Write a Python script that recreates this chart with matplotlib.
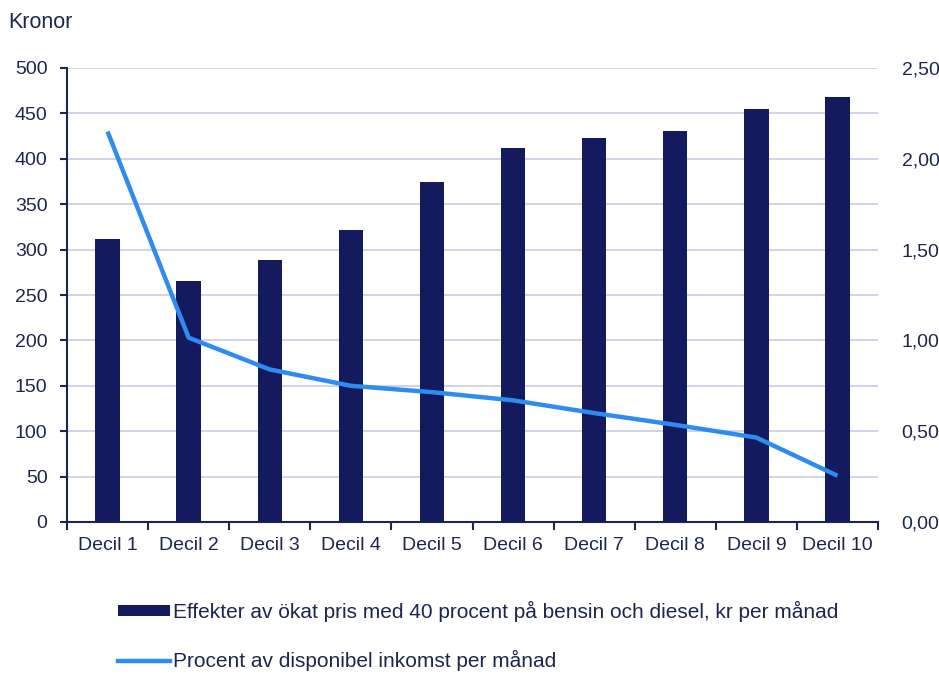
import matplotlib.pyplot as plt
import numpy as np
from matplotlib.ticker import FuncFormatter, FixedLocator
from matplotlib.patches import Patch
from matplotlib.lines import Line2D

plt.rcParams['font.family'] = ['Liberation Sans', 'DejaVu Sans']

# Data
categories = ['Decil 1', 'Decil 2', 'Decil 3', 'Decil 4', 'Decil 5',
              'Decil 6', 'Decil 7', 'Decil 8', 'Decil 9', 'Decil 10']
kronor = [312, 265, 289, 322, 374, 412, 423, 431, 455, 468]
procent = [2.15, 1.015, 0.84, 0.75, 0.715, 0.67, 0.60, 0.535, 0.465, 0.255]
left_ticks = [0, 50, 100, 150, 200, 250, 300, 350, 400, 450, 500]
right_ticks = [0.0, 0.5, 1.0, 1.5, 2.0, 2.5]

bar_label = 'Effekter av ökat pris med 40 procent på bensin och diesel, kr per månad'
line_label = 'Procent av disponibel inkomst per månad'

navy = '#141a5e'
blue = '#2e8bf0'
text_col = '#1e2650'
grid_col = '#c9c9e6'

W, H = 939, 674
fig = plt.figure(figsize=(W / 100, H / 100), dpi=100)
ax = fig.add_axes([67 / W, (H - 522) / H, 811 / W, (522 - 68) / H])

x = np.arange(len(categories))
ax.bar(x, kronor, width=0.3, color=navy, zorder=3)
ax.set_xlim(-0.5, len(categories) - 0.5)
ax.set_ylim(0, 500)
ax.set_yticks(left_ticks)
ax.yaxis.grid(True, color=grid_col, linewidth=1.2, zorder=0)
ax.set_axisbelow(True)

ax.set_xticks(x)
ax.set_xticklabels(categories)
ax.xaxis.set_minor_locator(FixedLocator(np.arange(-0.5, len(categories), 1.0)))
ax.tick_params(axis='x', which='major', length=0, pad=11, labelsize=14, labelcolor=text_col)
ax.tick_params(axis='x', which='minor', length=6, width=1.5, color=text_col, direction='out')
ax.tick_params(axis='y', length=5, width=1.5, color=text_col, labelsize=14,
               labelcolor=text_col, pad=9)

for s in ['top', 'right']:
    ax.spines[s].set_visible(False)
ax.spines['left'].set_color(text_col)
ax.spines['left'].set_linewidth(1.5)
ax.spines['bottom'].set_color(text_col)
ax.spines['bottom'].set_linewidth(1.5)

ax2 = ax.twinx()
ax2.plot(x, procent, color=blue, linewidth=3.2, solid_capstyle='butt', zorder=4)
ax2.set_ylim(0, 2.5)
ax2.set_yticks(right_ticks)
ax2.yaxis.set_major_formatter(FuncFormatter(lambda v, p: f'{v:.2f}'.replace('.', ',')))
ax2.tick_params(axis='y', length=0, labelsize=14, labelcolor=text_col, pad=17)
for s in ['top', 'right', 'left', 'bottom']:
    ax2.spines[s].set_visible(False)

fig.text(8 / W, 1 - 23 / H, 'Kronor', fontsize=15.5, color=text_col, va='center', ha='left')

handles = [Patch(facecolor=navy, edgecolor='none'),
           Line2D([0], [0], color=blue, linewidth=3.2)]
leg = fig.legend(handles, [bar_label, line_label], loc='upper left',
                 bbox_to_anchor=(118 / W, 1 - 601 / H), frameon=False,
                 fontsize=15, handlelength=2.5, handletextpad=0.12,
                 handleheight=0.45, labelspacing=1.35, borderaxespad=0,
                 borderpad=0)
for t in leg.get_texts():
    t.set_color(text_col)

fig.savefig('out.png', dpi=100)
